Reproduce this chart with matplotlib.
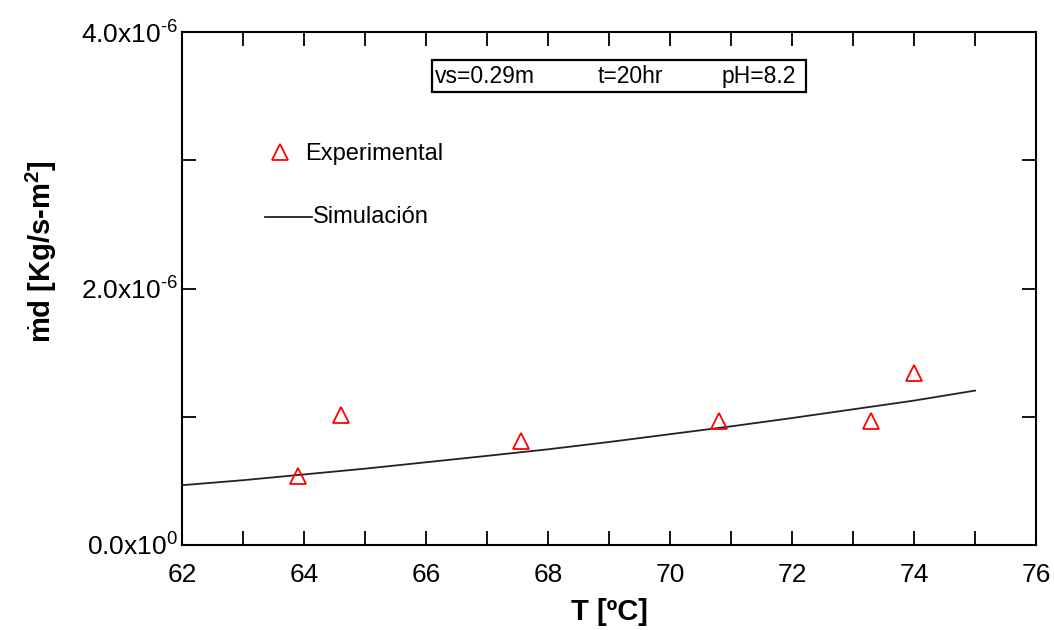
import matplotlib.pyplot as plt
from matplotlib.patches import Rectangle
from matplotlib.ticker import MultipleLocator, FixedLocator

plt.rcParams['font.family'] = ['Liberation Sans', 'DejaVu Sans']
plt.rcParams['mathtext.fontset'] = 'custom'
plt.rcParams['mathtext.rm'] = 'Liberation Sans'
plt.rcParams['mathtext.bf'] = 'Liberation Sans:bold'
plt.rcParams['mathtext.it'] = 'Liberation Sans:italic'

# datos experimentales
t_exp = [63.9, 64.6, 67.55, 70.8, 73.3, 74.0]
md_exp = [0.54e-6, 1.01e-6, 0.81e-6, 0.97e-6, 0.97e-6, 1.34e-6]

# curva de simulación
t_sim = [62, 63, 64, 65, 66, 67, 68, 69, 70, 71, 72, 73, 74, 75]
md_sim = [0.466e-6, 0.505e-6, 0.55e-6, 0.595e-6, 0.645e-6, 0.695e-6, 0.746e-6,
          0.803e-6, 0.864e-6, 0.925e-6, 0.99e-6, 1.058e-6, 1.126e-6, 1.204e-6]

y_ticks = [0, 2e-6, 4e-6]
y_tick_labels = [r'0.0x10$^{0}$', r'2.0x10$^{\text{-}6}$', r'4.0x10$^{\text{-}6}$']

fig = plt.figure(figsize=(10.54, 6.3), dpi=100)
ax = fig.add_axes([0.1727, 0.135, 0.8103, 0.814])

ax.plot(t_sim, md_sim, color='#222222', lw=1.3)
ax.plot(t_exp, md_exp, linestyle='none', marker='^', markersize=12,
        markerfacecolor='none', markeredgecolor='red', markeredgewidth=1.3)

ax.set_xlim(62, 76)
ax.set_ylim(0, 4e-6)
ax.xaxis.set_major_locator(MultipleLocator(2))
ax.xaxis.set_minor_locator(MultipleLocator(1))
ax.yaxis.set_major_locator(FixedLocator(y_ticks))
ax.yaxis.set_minor_locator(MultipleLocator(1e-6))
ax.set_yticklabels(y_tick_labels)
ax.tick_params(which='both', direction='in', top=True, right=True, width=1.3,
               length=10, labelsize=19)
ax.tick_params(axis='x', pad=13)
ax.tick_params(axis='y', pad=3)
for s in ax.spines.values():
    s.set_linewidth(1.5)

ax.set_xlabel('T [ºC]', fontsize=21, fontweight='bold', labelpad=8)
ax.set_ylabel(r'$\dot{\mathbf{m}}$d [Kg/s-m$^{\mathbf{2}}$]', fontsize=21,
              fontweight='bold')
ax.yaxis.set_label_coords(-0.144, 0.571)

# cuadro de condiciones
ax.add_patch(Rectangle((0.2927, 0.883), 0.438, 0.062, transform=ax.transAxes,
                       facecolor='white', edgecolor='black', lw=1.6))
ax.text(0.296, 0.913, 'vs=0.29m', transform=ax.transAxes, va='center', fontsize=16.5)
ax.text(0.487, 0.913, 't=20hr', transform=ax.transAxes, va='center', fontsize=16.5)
ax.text(0.632, 0.913, 'pH=8.2', transform=ax.transAxes, va='center', fontsize=16.5)

# leyenda manual
ax.plot([63.61], [3.064e-6], linestyle='none', marker='^', markersize=12,
        markerfacecolor='none', markeredgecolor='red', markeredgewidth=1.3)
ax.text(64.02, 3.05e-6, 'Experimental', fontsize=17, va='center')
ax.plot([63.36, 64.13], [2.557e-6, 2.557e-6], color='#222222', lw=1.3)
ax.text(64.15, 2.56e-6, 'Simulación', fontsize=17, va='center')

fig.savefig('out.png', dpi=100)
